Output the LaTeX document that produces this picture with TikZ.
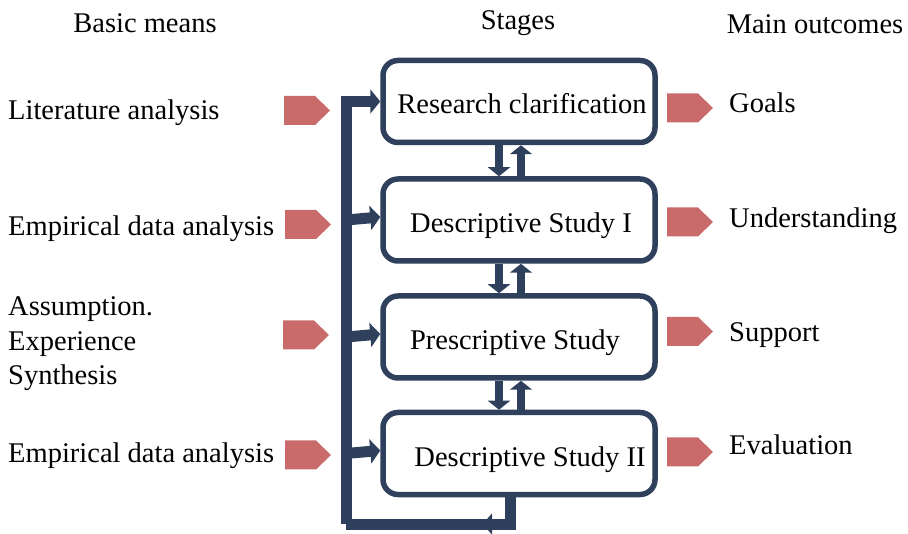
\documentclass[tikz,border=0pt]{standalone}
\usepackage{fontspec}
\setmainfont{Liberation Serif}
\usetikzlibrary{arrows.meta}
\definecolor{navy}{RGB}{46,64,92}
\definecolor{rosy}{RGB}{201,107,107}
\begin{document}
\begin{tikzpicture}[x=1pt,y=-1pt,
  every node/.style={font=\fontsize{28.5}{34.5}\selectfont, inner sep=0pt},
  stagebox/.style={draw=navy, line width=5.5pt, rounded corners=15pt, fill=white,
    minimum width=272pt, minimum height=82pt},
  flow/.style={draw=navy, line width=11pt},
  feed/.style={flow, -{Triangle[width=24pt,length=10pt]}},
  updown/.style={draw=navy, line width=8pt, -{Triangle[width=22pt,length=9pt]}},
  pent/.pic={\fill[rosy] (-23,-14.5) -- (8,-14.5) -- (23,0) -- (8,14.5) -- (-23,14.5) -- cycle;}]
\useasboundingbox (0,0) rectangle (908,534);

% column headings
\node (hmeans) at (145,23) {Basic means};
\node (hstages) at (518,23) {Stages};
\node (houtcomes) at (815,24) {Main outcomes};

% stage boxes
\node[stagebox] (b1) at (519,101.5) {};
\node[stagebox] (b2) at (519,220) {};
\node[stagebox] (b3) at (519,337) {};
\node[stagebox] (b4) at (519,453.5) {};
\node (t1) at (522,104) {Research clarification};
\node (t2) at (521,226) {Descriptive Study I};
\node (t3) at (515,343) {Prescriptive Study};
\node (t4) at (530,460) {Descriptive Study II};

% arrows between neighbouring stages
\foreach \a/\b in {b1/b2,b2/b3,b3/b4}{
  \draw[updown] ([xshift=-20pt]\a.south) -- ([xshift=-20pt]\b.north);
  \draw[updown] ([xshift=2pt]\b.north) -- ([xshift=2pt]\a.south);
}

% feedback loop from the last stage back to the first
\coordinate (loopbr) at (510,524);
\coordinate (loopbl) at (346,524);
\coordinate (looptip) at (483,524);
\draw[flow] ([xshift=-9pt]b4.south) -- (loopbr) -- (loopbl);
\draw[flow,-{Triangle[width=21pt,length=9pt]}] (loopbr) -- (looptip);
\draw[feed] (loopbl) -- (loopbl |- b1.west) -- (b1.west);
\foreach \b in {b2,b3,b4}
  \draw[feed] (loopbl |- \b.west) -- ([yshift=3pt]\b.west);

% basic means
\node[anchor=west] (m1) at (8,113) {Literature analysis};
\node[anchor=west] (m2) at (8,229) {Empirical data analysis};
\node[anchor=west,align=left] (m3) at (8,344) {Assumption.\\Experience\\Synthesis};
\node[anchor=west] (m4) at (8,456) {Empirical data analysis};
\pic at (307,110.5) {pent};
\pic at (308,224.5) {pent};
\pic at (306,335) {pent};
\pic at (308,455) {pent};

% main outcomes
\node[anchor=west] (o1) at (729,103) {Goals};
\node[anchor=west] (o2) at (729,221) {Understanding};
\node[anchor=west] (o3) at (729,335) {Support};
\node[anchor=west] (o4) at (729,445) {Evaluation};
\pic at (690,108) {pent};
\pic at (690,222) {pent};
\pic at (690,331.5) {pent};
\pic at (690,452) {pent};
\end{tikzpicture}
\end{document}
